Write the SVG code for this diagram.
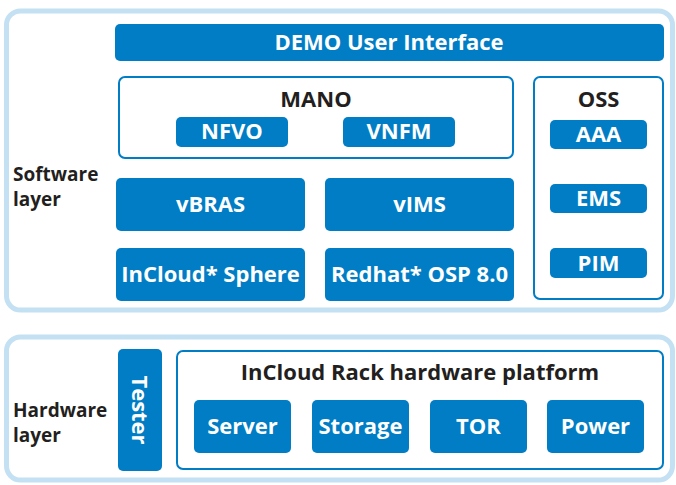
<svg xmlns="http://www.w3.org/2000/svg" width="676" height="485" viewBox="0 0 676 485">
<style>
.layer{fill:#fff;stroke:#c4e0f3;stroke-width:5}
.frame{fill:#fff;stroke:#007dc5;stroke-width:2}
.blk{fill:#007dc5}
.t{font-family:"Open Sans","Liberation Sans",sans-serif;font-weight:700;font-size:22px;text-anchor:middle}
.w{fill:#fff}
.k{fill:#231f20}
.lab{font-family:"Open Sans","Liberation Sans",sans-serif;font-weight:700;font-size:19px;fill:#231f20}
</style>
<rect width="676" height="485" fill="#fff"/>
<g id="software-layer">
<rect class="layer" x="6.5" y="11" width="666" height="299" rx="14"/>
<text class="lab" x="13" y="181">Software</text>
<text class="lab" x="13" y="206">layer</text>
</g>
<g id="hardware-layer">
<rect class="layer" x="6.5" y="337" width="666" height="143" rx="14"/>
<text class="lab" x="13" y="417">Hardware</text>
<text class="lab" x="13" y="442">layer</text>
</g>
<g id="demo"><rect class="blk" x="115" y="24" width="549" height="37" rx="5"/><text class="t w" x="389" y="50">DEMO User Interface</text></g>
<g id="mano"><rect class="frame" x="119" y="77" width="394" height="81" rx="6"/><text class="t k" x="316" y="107">MANO</text></g>
<g id="nfvo"><rect class="blk" x="176" y="117" width="112" height="30" rx="5"/><text class="t w" x="232" y="139">NFVO</text></g>
<g id="vnfm"><rect class="blk" x="343" y="117" width="112" height="30" rx="5"/><text class="t w" x="399" y="139">VNFM</text></g>
<g id="oss"><rect class="frame" x="534" y="77" width="129" height="222" rx="6"/><text class="t k" x="598.5" y="107">OSS</text></g>
<g id="aaa"><rect class="blk" x="550" y="120" width="97" height="29" rx="5"/><text class="t w" x="598.5" y="142">AAA</text></g>
<g id="ems"><rect class="blk" x="550" y="184" width="97" height="29" rx="5"/><text class="t w" x="598.5" y="206">EMS</text></g>
<g id="pim"><rect class="blk" x="550" y="248" width="97" height="30" rx="5"/><text class="t w" x="598.5" y="271">PIM</text></g>
<g id="vbras"><rect class="blk" x="116" y="178" width="189" height="53" rx="5"/><text class="t w" x="210.5" y="212">vBRAS</text></g>
<g id="vims"><rect class="blk" x="325" y="178" width="189" height="53" rx="5"/><text class="t w" x="419.5" y="212">vIMS</text></g>
<g id="incloud-sphere"><rect class="blk" x="116" y="248" width="189" height="53" rx="5"/><text class="t w" x="210.5" y="282">InCloud* Sphere</text></g>
<g id="redhat"><rect class="blk" x="325" y="248" width="189" height="53" rx="5"/><text class="t w" x="419.5" y="282">Redhat* OSP 8.0</text></g>
<g id="tester"><rect class="blk" x="118" y="349" width="44" height="122" rx="5"/><text class="t w" transform="translate(132,410) rotate(90)" x="0" y="0">Tester</text></g>
<g id="rack"><rect class="frame" x="177" y="351" width="486" height="118" rx="6"/><text class="t k" x="420" y="380">InCloud Rack hardware platform</text></g>
<g id="server"><rect class="blk" x="194" y="400" width="97" height="53" rx="5"/><text class="t w" x="242.5" y="434">Server</text></g>
<g id="storage"><rect class="blk" x="312" y="400" width="97" height="53" rx="5"/><text class="t w" x="360.5" y="434">Storage</text></g>
<g id="tor"><rect class="blk" x="430" y="400" width="97" height="53" rx="5"/><text class="t w" x="478.5" y="434">TOR</text></g>
<g id="power"><rect class="blk" x="547" y="400" width="97" height="53" rx="5"/><text class="t w" x="595.5" y="434">Power</text></g>
<g id="connectors"></g>
</svg>
